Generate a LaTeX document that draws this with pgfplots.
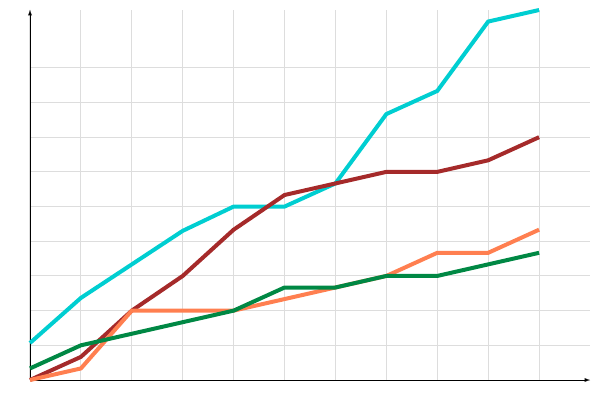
\documentclass[border=0pt]{standalone}
\usepackage{pgfplots}
\pgfplotsset{compat=1.18}
\definecolor{cyanL}{RGB}{0,206,209}
\definecolor{brownL}{RGB}{165,42,42}
\definecolor{coralL}{RGB}{255,127,80}
\definecolor{greenL}{RGB}{0,136,68}
\definecolor{gridc}{RGB}{221,221,221}
\begin{document}
\begin{tikzpicture}
\useasboundingbox (-30pt,-20pt) rectangle (570pt,380pt);
\begin{axis}[
  at={(0,0)}, anchor=origin,
  scale only axis, width=560pt, height=370pt,
  xmin=0, xmax=11, ymin=0, ymax=32,
  axis lines=left,
  axis line style={black, line width=0.9pt, -latex},
  xtick={0,...,10}, ytick={0,3,...,27},
  xticklabels={}, yticklabels={},
  major tick length=0pt,
  grid=major,
  major grid style={gridc, line width=1pt},
  clip=false,
]
\addplot[cyanL, line width=4pt] coordinates {(0,3.2)(1,7.1)(2,10)(3,12.9)(4,15)(5,15)(6,17)(7,23)(8,25)(9,31)(10,32)};
\addplot[brownL, line width=4pt] coordinates {(0,0)(1,2)(2,6)(3,9)(4,13)(5,16)(6,17)(7,18)(8,18)(9,19)(10,21)};
\addplot[coralL, line width=4pt] coordinates {(0,0)(1,1)(2,6)(3,6)(4,6)(5,7)(6,8)(7,9)(8,11)(9,11)(10,13)};
\addplot[greenL, line width=4pt] coordinates {(0,1)(1,3)(2,4)(3,5)(4,6)(5,8)(6,8)(7,9)(8,9)(9,10)(10,11)};
\end{axis}
\end{tikzpicture}
\end{document}
